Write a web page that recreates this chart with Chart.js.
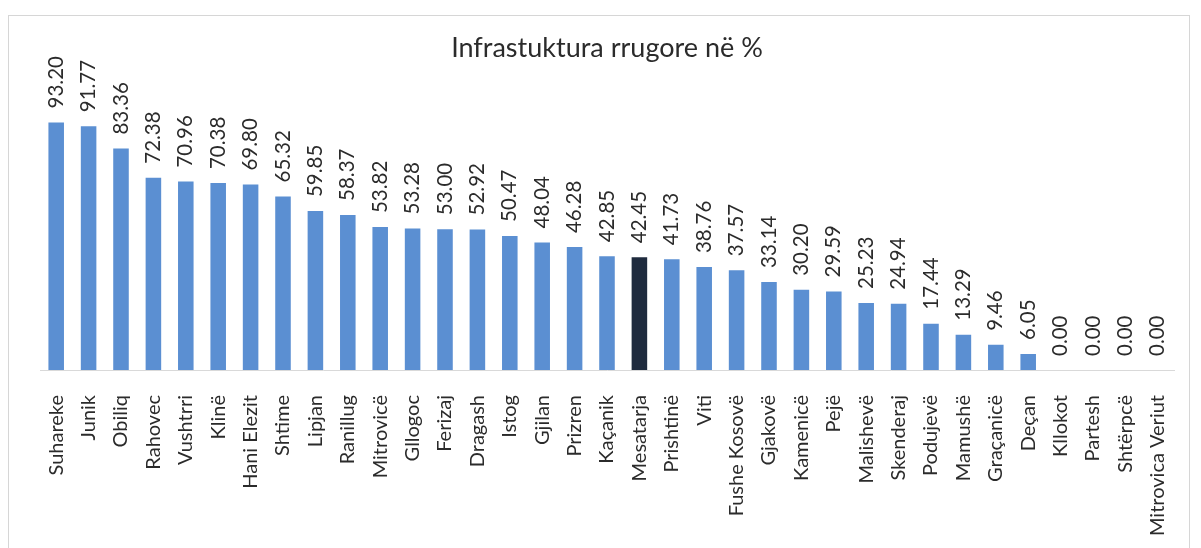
<!DOCTYPE html>
<html>
<head>
<meta charset="utf-8">
<script src="https://cdn.jsdelivr.net/npm/chart.js@4"></script>
<style>
  html, body { margin: 0; padding: 0; background: #fff; }
  #wrap { position: relative; width: 1201px; height: 548px; }
  #box { position: absolute; left: 8px; top: 15px; width: 1180px; height: 540px; border: 1px solid #d6d6d6; }
  canvas { position: absolute; left: 0; top: 0; }
</style>
</head>
<body>
<div id="wrap">
  <div id="box"></div>
  <canvas id="chart" width="1201" height="548"></canvas>
</div>
<script>
// komunat, renditur sipas perqindjes
const komunat = ['Suhareke', 'Junik', 'Obiliq', 'Rahovec', 'Vushtrri', 'Klinë', 'Hani Elezit', 'Shtime',
  'Lipjan', 'Ranillug', 'Mitrovicë', 'Gllogoc', 'Ferizaj', 'Dragash', 'Istog', 'Gjilan', 'Prizren',
  'Kaçanik', 'Mesatarja', 'Prishtinë', 'Viti', 'Fushe Kosovë', 'Gjakovë', 'Kamenicë', 'Pejë',
  'Malishevë', 'Skenderaj', 'Podujevë', 'Mamushë', 'Graçanicë', 'Deçan', 'Kllokot', 'Partesh',
  'Shtërpcë', 'Mitrovica Veriut'];
const infrastruktura = [93.20, 91.77, 83.36, 72.38, 70.96, 70.38, 69.80, 65.32, 59.85, 58.37, 53.82,
  53.28, 53.00, 52.92, 50.47, 48.04, 46.28, 42.85, 42.45, 41.73, 38.76, 37.57, 33.14, 30.20, 29.59,
  25.23, 24.94, 17.44, 13.29, 9.46, 6.05, 0.00, 0.00, 0.00, 0.00];
const titulli = 'Infrastuktura rrugore në %';

const fontFam = 'Lato, "Open Sans", sans-serif';
const ngjyrat = komunat.map(k => k === 'Mesatarja' ? '#1f2b3e' : '#5b8fd2');

// vlerat mbi shtylla, te rrotulluara
const vleratPlugin = {
  id: 'vlerat',
  afterDatasetsDraw(chart) {
    const ctx = chart.ctx;
    const meta = chart.getDatasetMeta(0);
    ctx.save();
    ctx.font = '20.5px ' + fontFam;
    ctx.fillStyle = '#2b2b2b';
    ctx.textAlign = 'left';
    ctx.textBaseline = 'middle';
    meta.data.forEach((bar, i) => {
      ctx.save();
      ctx.translate(bar.x, bar.y - 14);
      ctx.rotate(-Math.PI / 2);
      ctx.fillText(infrastruktura[i].toFixed(2), 0, 0);
      ctx.restore();
    });
    ctx.restore();
  }
};

new Chart(document.getElementById('chart'), {
  type: 'bar',
  data: {
    labels: komunat,
    datasets: [{
      data: infrastruktura,
      backgroundColor: ngjyrat,
      categoryPercentage: 1,
      barPercentage: 0.48
    }]
  },
  options: {
    responsive: false,
    animation: false,
    layout: { padding: { left: 40, right: 27, bottom: 0, top: 0 } },
    plugins: {
      legend: { display: false },
      tooltip: { enabled: false },
      title: {
        display: true,
        text: titulli,
        color: '#2b2b2b',
        font: { family: fontFam, size: 27, weight: 'normal' },
        padding: { top: 32, bottom: 40 }
      }
    },
    scales: {
      x: {
        grid: { display: false },
        border: { display: true, color: '#d9d9d9' },
        ticks: {
          autoSkip: false,
          minRotation: 90,
          maxRotation: 90,
          color: '#2b2b2b',
          font: { family: fontFam, size: 20 },
          padding: 17
        },
        afterFit(scale) { scale.height = 178; }
      },
      y: {
        display: false,
        min: 0,
        max: 100
      }
    }
  },
  plugins: [vleratPlugin]
});
</script>
</body>
</html>
